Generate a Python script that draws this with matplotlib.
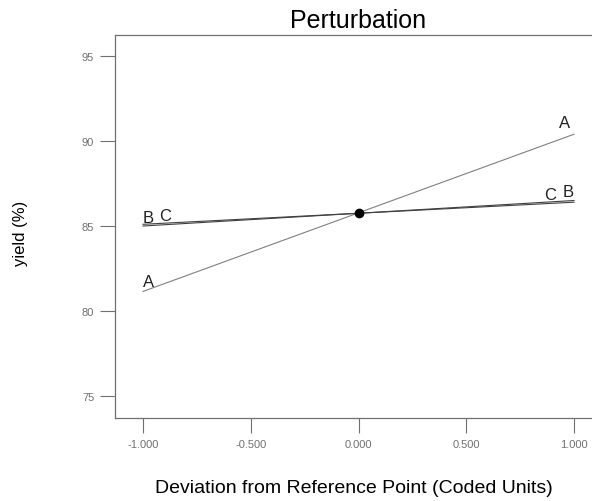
import matplotlib
matplotlib.use('Agg')
import matplotlib.pyplot as plt

plt.rcParams['font.family'] = ['Liberation Sans', 'DejaVu Sans']

# coded deviation from the reference point
x_dev = [-1.0, 1.0]
yield_A = [81.15, 90.4]
yield_B = [85.0, 86.5]
yield_C = [85.1, 86.4]
ref_x, ref_y = 0.0, 85.76

x_ticks = [-1.0, -0.5, 0.0, 0.5, 1.0]
y_ticks = [75, 80, 85, 90, 95]

fig = plt.figure(figsize=[5.92, 5.02], dpi=100, facecolor='white')
ax = fig.add_axes([0.1943, 0.1653, 0.8226, 0.763])

ax.plot(x_dev, yield_A, color='#808080', lw=0.8)
ax.plot(x_dev, yield_B, color='#404040', lw=0.8)
ax.plot(x_dev, yield_C, color='#404040', lw=0.8)
ax.plot([ref_x], [ref_y], 'o', color='black', ms=6)

# factor labels at both ends of each trace
lbl = dict(fontsize=12, color='#222222')
ax.text(x_dev[0], yield_A[0] + 0.15, 'A', ha='left', va='bottom', **lbl)
ax.text(x_dev[1] - 0.02, yield_A[1] + 0.25, 'A', ha='right', va='bottom', **lbl)
ax.text(x_dev[0], yield_B[0] + 0.05, 'B', ha='left', va='bottom', **lbl)
ax.text(x_dev[0] + 0.075, yield_C[0] + 0.1, 'C', ha='left', va='bottom', **lbl)
ax.text(x_dev[1], yield_B[1] + 0.1, 'B', ha='right', va='bottom', **lbl)
ax.text(x_dev[1] - 0.085, yield_C[1] + 0.0, 'C', ha='right', va='bottom', **lbl)

ax.set_xlim(-1.13, 1.13)
ax.set_ylim(73.7, 96.24)
ax.set_xticks(x_ticks)
ax.set_xticklabels([f'{v:.3f}' for v in x_ticks])
ax.set_yticks(y_ticks)
ax.set_yticklabels([str(v) for v in y_ticks])
ax.tick_params(axis='both', colors='#707070', labelsize=8, width=0.8)
ax.tick_params(axis='y', length=11, pad=4)
ax.tick_params(axis='x', length=11, pad=4)
for s in ax.spines.values():
    s.set_color('#707070')
    s.set_linewidth(0.9)

ax.set_title('Perturbation', fontsize=18, pad=6)
fig.text(0.035, 0.535, 'yield (%)', rotation=90, ha='center', va='center', fontsize=12)
fig.text(0.598, 0.027, 'Deviation from Reference Point (Coded Units)',
         ha='center', va='center', fontsize=14)

fig.savefig('out.png', dpi=100)
